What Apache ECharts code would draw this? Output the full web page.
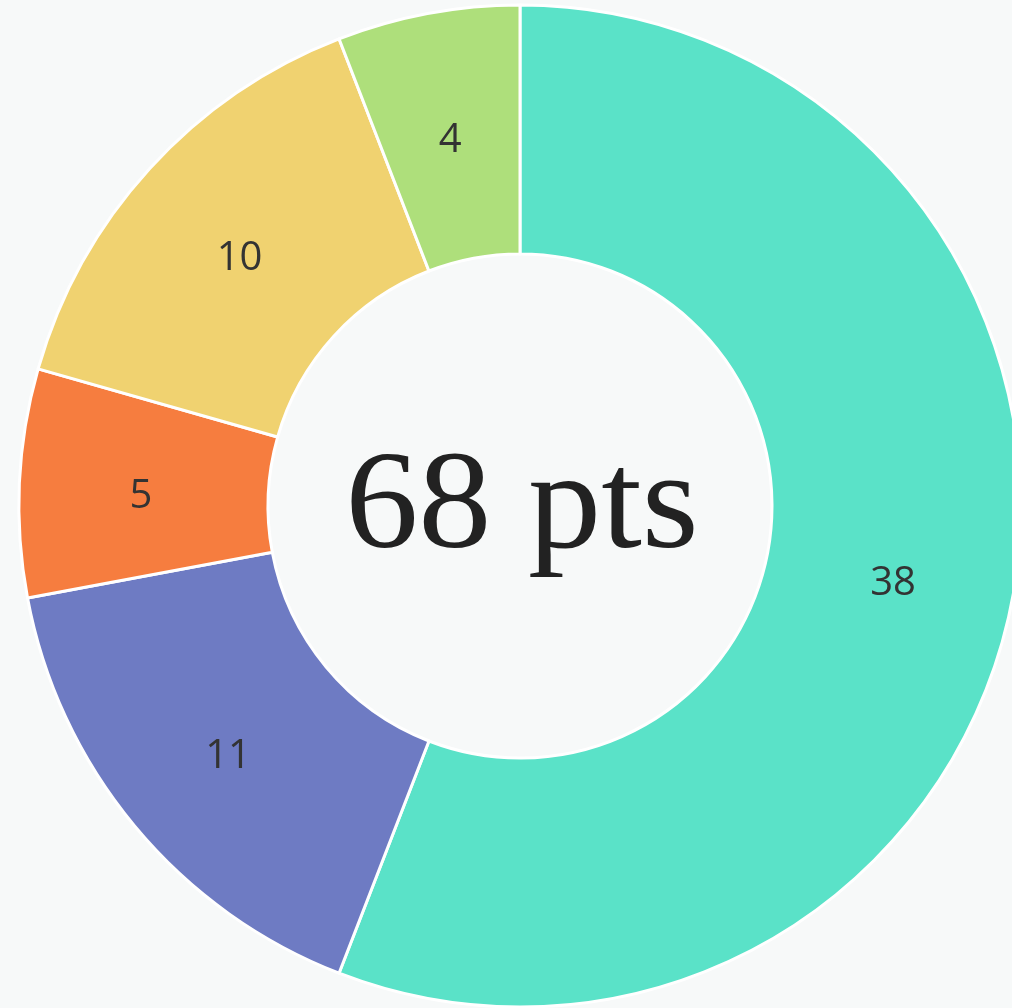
<!DOCTYPE html>
<html>
<head>
<meta charset="utf-8">
<script src="https://cdn.jsdelivr.net/npm/echarts@6/dist/echarts.min.js"></script>
<style>
  html, body { margin: 0; padding: 0; background: #f7f9f9; }
  #chart { width: 1012px; height: 1008px; }
</style>
</head>
<body>
<div id="chart"></div>
<script>
const names = ['A', 'B', 'C', 'D', 'E']
const values = [38, 11, 5, 10, 4]
const colors = ['#5ae2c8', '#6e7bc3', '#f67d3f', '#f0d270', '#aedf7b']
const centerText = '68 pts'

const chart = echarts.init(document.getElementById('chart'))
chart.setOption({
  backgroundColor: '#f7f9f9',
  animation: false,
  graphic: [{
    type: 'text',
    x: 522,
    y: 440,
    scaleX: 1.045,
    style: {
      text: centerText,
      font: '140px "Liberation Serif", serif',
      fill: '#222222',
      textAlign: 'center',
      textVerticalAlign: 'top',
    },
  }],
  series: [{
    type: 'pie',
    center: [520, 506],
    radius: [252, 501],
    startAngle: 90,
    clockwise: true,
    itemStyle: { borderColor: '#ffffff', borderWidth: 3 },
    label: {
      show: true,
      position: 'inside',
      formatter: '{c}',
      color: '#333333',
      fontSize: 40,
      fontFamily: '"Open Sans", sans-serif',
      offset: [0, 8],
    },
    labelLine: { show: false },
    data: values.map((v, i) => ({
      name: names[i],
      value: v,
      itemStyle: { color: colors[i] },
    })),
  }],
})
</script>
</body>
</html>
